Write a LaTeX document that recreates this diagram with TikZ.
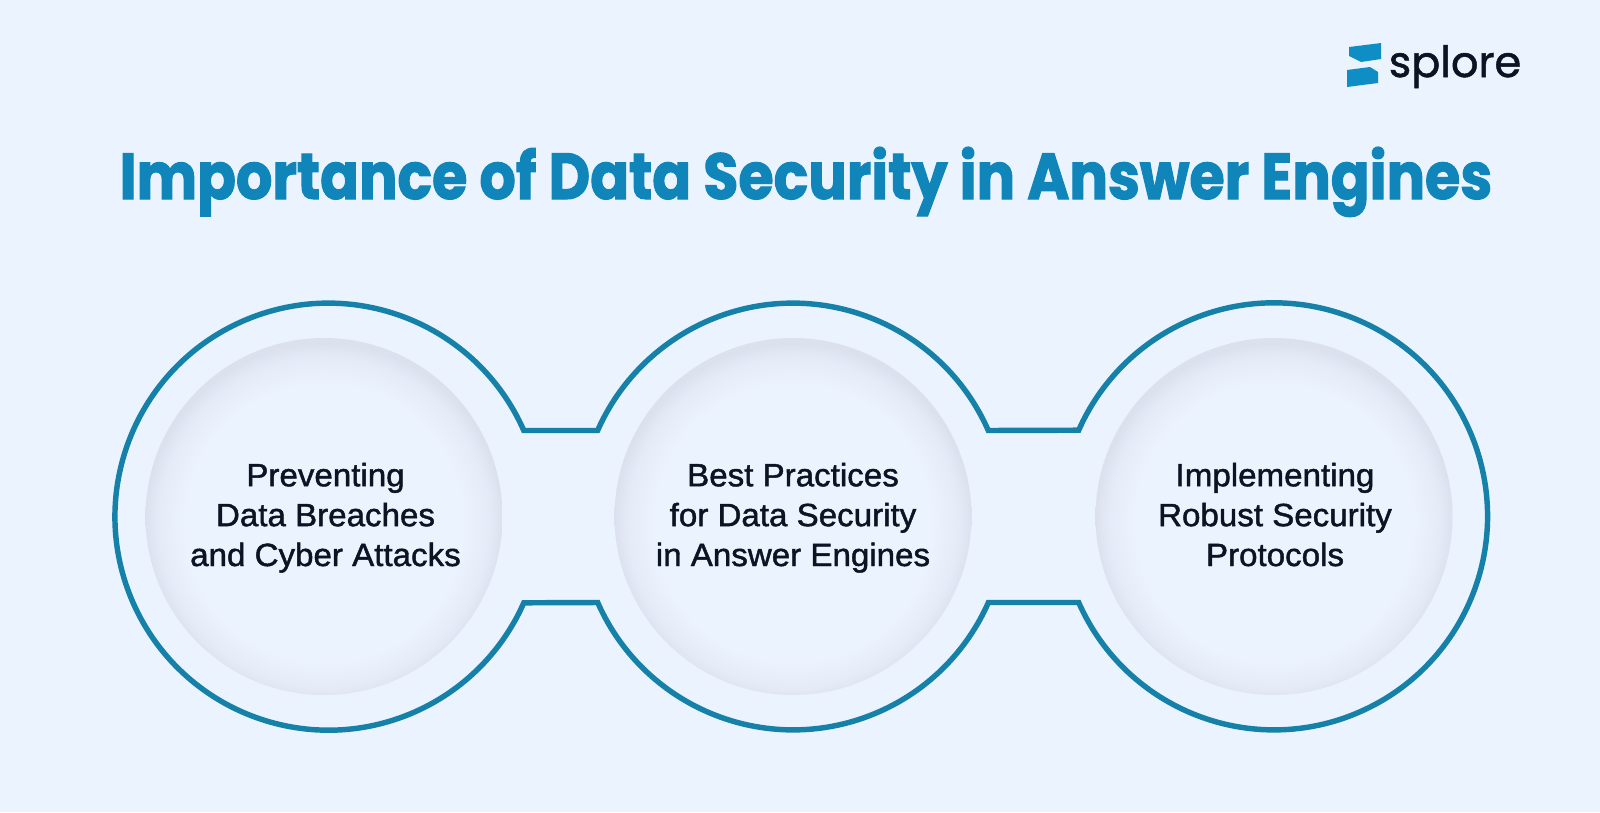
\documentclass[tikz,border=0pt]{standalone}
\usepackage{fontspec}
\setmainfont{Liberation Sans}
\newfontfamily\titlefont{Poppins}[FakeBold=1.6,FakeStretch=0.88,UprightFont=* Bold,BoldFont=* Bold]
\newfontfamily\logofont{Poppins}[FakeBold=1.2]
\newfontfamily\labelfont{Liberation Sans}[FakeBold=1.4,FakeStretch=1.03]
\definecolor{pagebg}{HTML}{EBF3FE}
\definecolor{ringblue}{HTML}{1580A8}
\definecolor{titleblue}{HTML}{0F85B9}
\definecolor{logoblue}{HTML}{0F8EC6}
\definecolor{inkdark}{HTML}{0C1424}
\definecolor{discedge}{HTML}{DCE1EE}
\pgfdeclareradialshading{discshade}{\pgfpoint{0bp}{-1.5bp}}{color(0bp)=(pagebg); color(19.5bp)=(pagebg); color(23bp)=(pagebg!60!discedge); color(25bp)=(discedge); color(50bp)=(discedge)}
\begin{document}
\begin{tikzpicture}[x=0.02cm,y=0.02cm]
    \tikzstyle{every node}+=[inner sep=0pt]
    \tikzstyle{circletext}=[anchor=base, font=\labelfont\fontsize{18.3}{22.7}\selectfont, text=inkdark, align=center]
    \tikzstyle{disc}=[shade, shading=discshade]
    \useasboundingbox (0,0) rectangle (1600,-812);
    \fill [pagebg] (0,0) rectangle (1600,-812);
    % logo
    \fill [logoblue] (1349,-47) -- (1381,-43) -- (1381,-59) -- (1361,-62) -- (1349,-56) -- cycle;
    \fill [logoblue] (1347,-70) -- (1370,-67) -- (1378,-72) -- (1378,-83) -- (1347,-87) -- cycle;
    \node (logo) [anchor=base, text=inkdark, font=\logofont\fontsize{24.5}{25}\selectfont] at (1455,-77) {splore};
    % title
    \node (title) [anchor=base, text=titleblue, font=\titlefont\fontsize{37}{37}\selectfont] at (806,-199) {Importance of Data Security in Answer Engines};
    % discs
    \path [disc] (324,-516.5) circle (178.5);
    \path [disc] (793,-516.5) circle (178.5);
    \path [disc] (1274,-516.5) circle (178.5);
    % ring
    \draw [ringblue, line width=3.1pt, miter limit=10] (523.8,-430.5) arc (23.8:336.2:213.5) -- (597.7,-602.5) arc (203.8:336.2:213.5) -- (1078.7,-602.5) arc (203.8:516.2:213.5) -- (988.3,-430.5) arc (23.8:156.2:213.5) -- cycle;
    % labels
    \node (prevent) [circletext] at (325.5,-566) {Preventing\\Data Breaches\\and Cyber Attacks};
    \node (practices) [circletext] at (793,-566) {Best Practices\\for Data Security\\in Answer Engines};
    \node (protocols) [circletext] at (1275,-566) {Implementing\\Robust Security\\Protocols};
\end{tikzpicture}
\end{document}
